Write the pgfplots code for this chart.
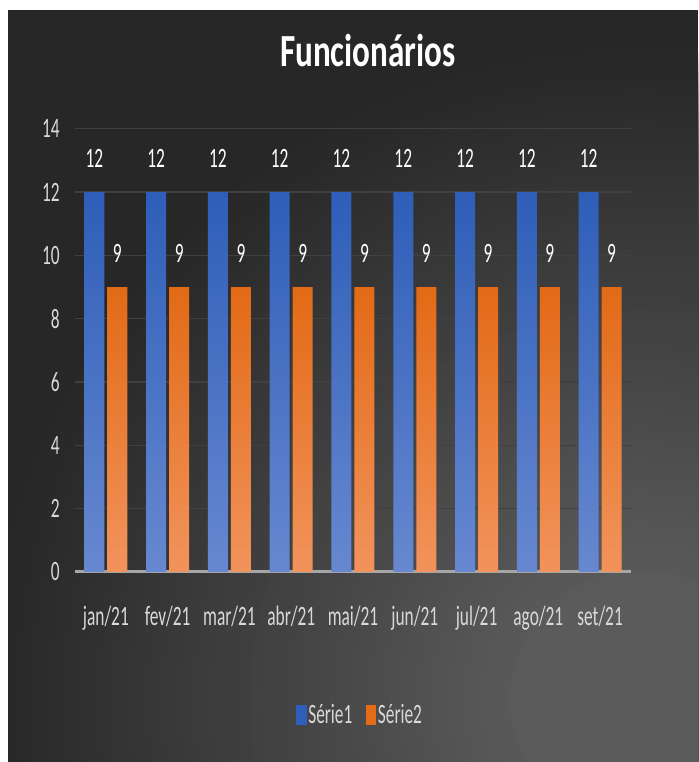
\documentclass[border=0pt]{standalone}
\usepackage{pgfplots}
\usepackage{pgfplotstable}
\pgfplotsset{compat=1.18}
\usepackage{fontspec}
\setmainfont{Carlito}[FakeStretch=0.62]
\newfontfamily\titlefont{Carlito}[FakeStretch=0.72]
\definecolor{blueT}{HTML}{2E5EB8}
\definecolor{blueB}{HTML}{6788D0}
\definecolor{orT}{HTML}{E26A16}
\definecolor{orB}{HTML}{F2935C}
\definecolor{blueL}{HTML}{2F5FBB}
\definecolor{orL}{HTML}{E46C18}
\definecolor{bgA}{HTML}{272727}
\definecolor{bgB}{HTML}{5A5A5A}
\definecolor{gridc}{HTML}{404040}
\definecolor{axc}{HTML}{A6A6A6}
\definecolor{tickc}{HTML}{D9D9D9}

\pgfplotstableread{
x s1 s2
0 12 9
1 12 9
2 12 9
3 12 9
4 12 9
5 12 9
6 12 9
7 12 9
8 12 9
}\data

\begin{document}
\begin{tikzpicture}[x=0.5pt,y=0.5pt]
\fill[white] (0,0) rectangle (698,762);
\begin{scope}
\clip (8,0) rectangle (698,752);
\fill[bgA] (8,0) rectangle (698,752);
\foreach \r in {650,640,...,120}{
  \pgfmathsetmacro{\p}{(655-\r)/5.3}
  \fill[bgB!\p!bgA] (640,62) circle (\r);
}
\end{scope}
\node[anchor=base, text=white, inner sep=0pt, font=\titlefont\bfseries\fontsize{23}{26}\selectfont] at (368,695) {Funcionários};
\begin{axis}[
  at={(37.5pt,95pt)}, anchor=south west,
  scale only axis, width=278pt, height=221.65pt,
  xmin=-0.5, xmax=8.5, ymin=0, ymax=14,
  ytick={0,2,...,14},
  xtick={0,...,8},
  xticklabels={jan/21,fev/21,mar/21,abr/21,mai/21,jun/21,jul/21,ago/21,set/21},
  axis x line*=bottom, axis y line*=left,
  y axis line style={draw=none},
  x axis line style={draw=axc, line width=1.5pt},
  major tick length=0pt,
  ymajorgrids, grid style={draw=gridc, line width=0.75pt},
  tick label style={text=tickc, font=\fontsize{14}{16}\selectfont},
  /pgf/number format/assume math mode=true,
  yticklabel style={anchor=east, inner sep=0pt, xshift=-7.5pt},
  xticklabel style={anchor=base, inner sep=0pt, yshift=-27pt},
  legend style={at={(0.5,0)}, anchor=center, xshift=3.5pt, yshift=-71.5pt,
    draw=none, fill=none, legend columns=2, text=tickc,
    font=\fontsize{14}{16}\selectfont,
    nodes={inner sep=0.8pt},
    /tikz/every even column/.append style={column sep=6pt}},
  nodes near coords style={anchor=base, yshift=12.5pt, inner sep=0pt, text=white, font=\fontsize{14}{16}\selectfont},
]
\addlegendimage{legend image code/.code={\fill[blueL] (0pt,-4.75pt) rectangle (4.75pt,4.75pt);}}
\addlegendentry{Série1}
\addlegendimage{legend image code/.code={\fill[orL] (0pt,-4.75pt) rectangle (4.75pt,4.75pt);}}
\addlegendentry{Série2}
\addplot[ybar, bar width=10pt, bar shift=-5.75pt, draw=none, top color=blueT, bottom color=blueB, forget plot, nodes near coords, every node near coord/.append style={xshift=-5.75pt}] table[x=x,y=s1]{\data};
\addplot[ybar, bar width=10pt, bar shift=5.75pt, draw=none, top color=orT, bottom color=orB, forget plot, nodes near coords, every node near coord/.append style={xshift=5.75pt}] table[x=x,y=s2]{\data};
\end{axis}
\fill[white] (0,752) rectangle (698,762);
\fill[white] (0,0) rectangle (8,762);
\pgfresetboundingbox
\useasboundingbox (0,0) rectangle (698,762);
\end{tikzpicture}
\end{document}
